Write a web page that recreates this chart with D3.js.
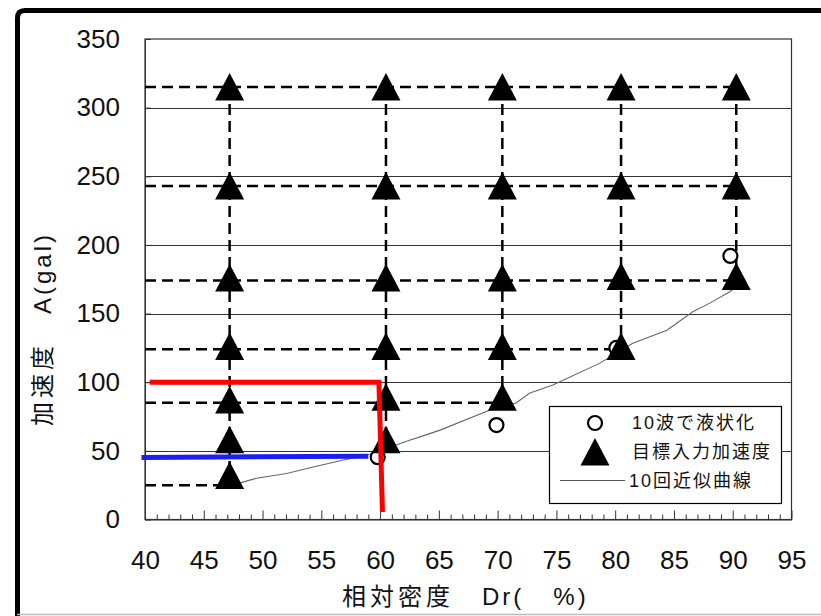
<!DOCTYPE html>
<html>
<head>
<meta charset="utf-8">
<script src="https://cdn.jsdelivr.net/npm/d3@7"></script>
<style>
  html, body { margin: 0; padding: 0; background: #fff; }
  svg { display: block; }
  .tick text { font-family: "Liberation Sans", Arial, sans-serif; font-size: 26px; fill: #111; }
  .title { font-family: "Liberation Sans", "Noto Sans CJK JP", sans-serif; font-size: 24px; fill: #111; }
  .legend text { font-family: "Liberation Sans", "Noto Sans CJK JP", sans-serif; font-size: 18px; fill: #111; letter-spacing: 2px; }
</style>
</head>
<body>
<script>
// Axis ticks
const xTicks = [40, 45, 50, 55, 60, 65, 70, 75, 80, 85, 90, 95];
const yTicks = [0, 50, 100, 150, 200, 250, 300, 350];

// Target input accelerations (triangles), one column per relative density
const columnDr = [47.2, 60.5, 70.4, 80.5, 90.3];
const targetAccel = [
  [315, 243, 176, 126, 87, 58, 32],
  [315, 243, 176, 126, 89, 58],
  [315, 243, 176, 126, 89],
  [315, 243, 177, 126],
  [315, 243, 177]
];

// Dashed staircase: horizontal levels and the density where each stops
const dashLevels = [315, 243, 174, 124, 85, 25];
const dashEndDr = [90.3, 90.3, 90.3, 80.5, 70.4, 47.2];
// lowest level reached by each column's vertical dashed line
const columnBottom = [25, 58, 85, 124, 174];

// Liquefaction within 10 cycles (open circles)
const liqDr = [59.8, 69.9, 80.1, 89.8];
const liqAccel = [45.4, 68.8, 125, 192];

// 10-cycle approximation curve
const curveDr = [47.2, 48.1, 49.5, 52.05, 54.3, 56.8, 59.1, 62.5, 63.4, 65.1, 69.3, 71.6, 72.7, 74.7, 78.7, 81.5, 84.4, 86.6, 88.05, 89.75, 90.3];
const curveAccel = [25, 26.7, 30.1, 33.5, 38.3, 43.2, 47.4, 57.8, 60.2, 65.1, 79.6, 85.0, 92.0, 97.9, 113.9, 128.4, 137.9, 151.3, 157.6, 165.9, 170];

// Reading guides
const redGuideDr = [40.4, 59.9, 60.2];
const redGuideAccel = [100, 100, 5.5];
const blueGuideDr = [39.7, 59.0];
const blueGuideAccel = [45.2, 46.1];

const W = 821, H = 616;
const svg = d3.select("body").append("svg").attr("width", W).attr("height", H);
svg.append("rect").attr("width", W).attr("height", H).attr("fill", "#fff");

// outer frame: heavy top/left edge with rounded corner, light bottom edge
svg.append("path")
  .attr("d", "M17.5,616 L17.5,18 Q17.5,10.5 25,10.5 L821,10.5")
  .attr("fill", "none").attr("stroke", "#000").attr("stroke-width", 5);
svg.append("line").attr("x1", 17).attr("x2", 821).attr("y1", 614.5).attr("y2", 614.5)
  .attr("stroke", "#bbb").attr("stroke-width", 1.5);

const x = d3.scaleLinear().domain([40, 95]).range([145, 791.5]);
const y = d3.scaleLinear().domain([0, 350]).range([519.5, 39]);

// horizontal gridlines
svg.append("g").selectAll("line").data(yTicks.filter(v => v > 0 && v < 350)).join("line")
  .attr("x1", x(40)).attr("x2", x(95))
  .attr("y1", d => Math.round(y(d)) + 0.5).attr("y2", d => Math.round(y(d)) + 0.5)
  .attr("stroke", "#333").attr("stroke-width", 1);

// plot border
svg.append("rect")
  .attr("x", x(40)).attr("y", y(350))
  .attr("width", x(95) - x(40)).attr("height", y(0) - y(350))
  .attr("fill", "none").attr("stroke", "#333").attr("stroke-width", 1.2);

// x axis: minor ticks every 1, major every 5, pointing into the plot
const minor = d3.range(40, 96, 1).filter(v => v % 5 !== 0);
svg.append("g").attr("transform", `translate(0,${y(0)})`)
  .call(d3.axisBottom(x).tickValues(minor).tickSizeInner(-5).tickSizeOuter(0).tickFormat(""))
  .call(g => g.select(".domain").attr("stroke", "#333"))
  .call(g => g.selectAll(".tick line").attr("stroke", "#333"));
svg.append("g").attr("transform", `translate(0,${y(0)})`)
  .call(d3.axisBottom(x).tickValues(xTicks).tickSizeInner(-9).tickSizeOuter(0).tickPadding(31))
  .call(g => g.select(".domain").remove())
  .call(g => g.selectAll(".tick line").attr("stroke", "#333"));

// y axis
svg.append("g").attr("transform", `translate(${x(40)},0)`)
  .call(d3.axisLeft(y).tickValues(yTicks).tickSizeInner(-6).tickSizeOuter(0).tickPadding(25))
  .call(g => g.select(".domain").attr("stroke", "#333"))
  .call(g => g.selectAll(".tick line").attr("stroke", "#333"));

// dashed staircase
const dash = svg.append("g").attr("stroke", "#000").attr("stroke-width", 2.5)
  .attr("stroke-dasharray", "11,6").attr("fill", "none");
dashLevels.forEach((lv, i) => {
  dash.append("line").attr("x1", x(40)).attr("x2", x(dashEndDr[i]))
    .attr("y1", y(lv)).attr("y2", y(lv));
});
columnDr.forEach((dr, i) => {
  dash.append("line").attr("x1", x(dr)).attr("x2", x(dr))
    .attr("y1", y(dashLevels[0])).attr("y2", y(columnBottom[i]));
});

// approximation curve
const curvePts = curveDr.map((d, i) => [d, curveAccel[i]]);
svg.append("path").datum(curvePts)
  .attr("d", d3.line().x(d => x(d[0])).y(d => y(d[1])))
  .attr("fill", "none").attr("stroke", "#666").attr("stroke-width", 1.1);

// open circles
svg.append("g").selectAll("circle").data(liqDr.map((d, i) => [d, liqAccel[i]])).join("circle")
  .attr("cx", d => x(d[0])).attr("cy", d => y(d[1])).attr("r", 7)
  .attr("fill", "#fff").attr("stroke", "#000").attr("stroke-width", 2.2);

// triangles
const tri = (cx, cy) => `M${cx},${cy - 14} L${cx + 14.5},${cy + 13.5} L${cx - 14.5},${cy + 13.5} Z`;
const triPts = [];
columnDr.forEach((dr, i) => targetAccel[i].forEach(a => triPts.push([dr, a])));
svg.append("g").selectAll("path").data(triPts).join("path")
  .attr("d", d => tri(x(d[0]), y(d[1])))
  .attr("fill", "#000");

// reading guides
svg.append("path").datum(redGuideDr.map((d, i) => [d, redGuideAccel[i]]))
  .attr("d", d3.line().x(d => x(d[0])).y(d => y(d[1])))
  .attr("fill", "none").attr("stroke", "#ff0000").attr("stroke-width", 5);
svg.append("path").datum(blueGuideDr.map((d, i) => [d, blueGuideAccel[i]]))
  .attr("d", d3.line().x(d => x(d[0])).y(d => y(d[1])))
  .attr("fill", "none").attr("stroke", "#1e1ef0").attr("stroke-width", 5);

// legend
const lg = svg.append("g").attr("class", "legend");
lg.append("rect").attr("x", 549.5).attr("y", 406.5).attr("width", 232).attr("height", 97)
  .attr("fill", "#fff").attr("stroke", "#000").attr("stroke-width", 1.2);
lg.append("circle").attr("cx", 595).attr("cy", 423).attr("r", 7)
  .attr("fill", "#fff").attr("stroke", "#000").attr("stroke-width", 2.2);
lg.append("path").attr("d", tri(595, 452)).attr("fill", "#000");
lg.append("line").attr("x1", 560).attr("x2", 625).attr("y1", 480.5).attr("y2", 480.5)
  .attr("stroke", "#555").attr("stroke-width", 1.2);
const legendLabels = ["10波で液状化", "目標入力加速度", "10回近似曲線"];
const legendY = [423, 452, 480.5];
legendLabels.forEach((t, i) => {
  lg.append("text").attr("x", i === 2 ? 629 : 632).attr("y", legendY[i])
    .attr("dy", "0.36em").text(t);
});

// axis titles: Japanese part spaced out, Latin part tighter
const xt = svg.append("text").attr("class", "title")
  .attr("x", 342).attr("y", 596).attr("dy", "0.36em");
xt.append("tspan").attr("letter-spacing", "4px").text("相対密度　");
xt.append("tspan").attr("letter-spacing", "3px").text("Dr(\u00a0\u00a0\u00a0%)");

const yt = svg.append("text").attr("class", "title")
  .attr("transform", "translate(42,329) rotate(-90)").attr("dy", "0.36em")
  .attr("text-anchor", "middle");
yt.append("tspan").attr("letter-spacing", "4px").text("加速度　");
yt.append("tspan").attr("letter-spacing", "3px").text("A(gal)");
</script>
</body>
</html>
